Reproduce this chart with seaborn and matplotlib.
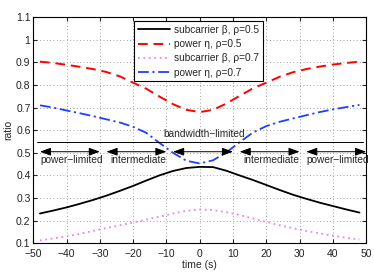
import numpy as np
import pandas as pd
import matplotlib
matplotlib.use("Agg")
import matplotlib.pyplot as plt
import seaborn as sns

# time axis (s)
t = [-48, -44, -40, -36, -32, -28, -24, -20, -16, -12, -8, -4, 0,
     4, 8, 12, 16, 20, 24, 28, 32, 36, 40, 44, 48]

beta_05 = [0.232, 0.245, 0.259, 0.275, 0.292, 0.311, 0.332, 0.354, 0.378, 0.401, 0.420, 0.433, 0.438,
           0.437, 0.421, 0.400, 0.380, 0.358, 0.336, 0.315, 0.297, 0.280, 0.265, 0.250, 0.236]
eta_05 = [0.903, 0.897, 0.889, 0.880, 0.870, 0.857, 0.838, 0.810, 0.783, 0.748, 0.715, 0.690, 0.680,
          0.690, 0.718, 0.752, 0.785, 0.810, 0.836, 0.856, 0.870, 0.881, 0.890, 0.897, 0.903]
beta_07 = [0.113, 0.122, 0.131, 0.142, 0.155, 0.168, 0.180, 0.192, 0.205, 0.218, 0.232, 0.244, 0.250,
           0.247, 0.238, 0.225, 0.210, 0.195, 0.180, 0.167, 0.155, 0.144, 0.134, 0.125, 0.117]
eta_07 = [0.710, 0.700, 0.687, 0.675, 0.662, 0.648, 0.634, 0.615, 0.588, 0.543, 0.500, 0.465, 0.453,
          0.467, 0.502, 0.547, 0.590, 0.618, 0.637, 0.652, 0.666, 0.680, 0.692, 0.702, 0.712]

labels = ["subcarrier \u03b2, \u03c1=0.5", "power \u03b7, \u03c1=0.5",
          "subcarrier \u03b2, \u03c1=0.7", "power \u03b7, \u03c1=0.7"]

# regimes: (start, end, label)
regions = [(-48, -30, "power\u2212limited"), (-28, -10, "intermediate"),
           (-8, 10, "bandwidth\u2212limited"), (12, 30, "intermediate"),
           (32, 50, "power\u2212limited")]

sns.set_style("white")
plt.rcParams['font.family'] = ['Liberation Sans', 'DejaVu Sans']

fig = plt.figure(figsize=(3.74, 2.75), dpi=100)
ax = fig.add_axes([0.089, 0.115, 0.89, 0.823])

styles = [("black", "-", 1.3), ("#ff0000", (0, (5, 3)), 1.4),
          ("#ee82ee", (0, (1, 2)), 1.3), ("#1f3fff", (0, (6, 2, 1.2, 2)), 1.3)]
for y, lab, (c, ls, lw) in zip([beta_05, eta_05, beta_07, eta_07], labels, styles):
    sns.lineplot(x=t, y=y, ax=ax, color=c, linestyle=ls, linewidth=lw, label=lab)

# regime arrows
arrow_y = 0.505
for a, b, lab in regions:
    ax.annotate("", xy=(a, arrow_y), xytext=(b, arrow_y),
                arrowprops=dict(arrowstyle="<|-|>,head_length=0.55,head_width=0.2",
                                color="k", lw=0.7, mutation_scale=12,
                                shrinkA=0, shrinkB=0))
    if "bandwidth" in lab:
        ax.text((a + b) / 2 + 0.5, 0.583, lab, ha="center", va="center", fontsize=7.3)
    else:
        ax.text((a + b) / 2 + 0.5, 0.468, lab, ha="center", va="center", fontsize=7.3)
ax.plot([-49, 49], [0.547, 0.547], color="k", lw=0.7)

ax.set_xlim(-50, 50)
ax.set_ylim(0.1, 1.1)
ax.set_xticks(np.arange(-50, 51, 10))
ax.set_yticks(np.round(np.arange(0.1, 1.11, 0.1), 1))
ax.set_yticklabels(["0.1", "0.2", "0.3", "0.4", "0.5", "0.6", "0.7", "0.8", "0.9", "1", "1.1"])
ax.tick_params(direction="in", length=3, labelsize=7.5, top=True, right=True,
               bottom=True, left=True, labelcolor="#222222")
ax.tick_params(axis="x", pad=4)
ax.tick_params(axis="y", pad=2)
ax.grid(True, linestyle=(0, (1, 3)), color="#888888", linewidth=0.6)
for s in ax.spines.values():
    s.set_color("black")
    s.set_linewidth(0.8)
ax.set_xlabel("time (s)", fontsize=7.5, labelpad=1)
ax.set_ylabel("ratio", fontsize=7.5, labelpad=2)

leg = ax.legend(loc="upper center", bbox_to_anchor=(0.497, 0.99), fontsize=7.3,
                frameon=True, fancybox=False, edgecolor="black", framealpha=1,
                handlelength=3.2, borderpad=0.35, labelspacing=0.42, handletextpad=0.4,
                borderaxespad=0.2)
leg.get_frame().set_linewidth(0.8)

fig.savefig("out.png", dpi=100)
